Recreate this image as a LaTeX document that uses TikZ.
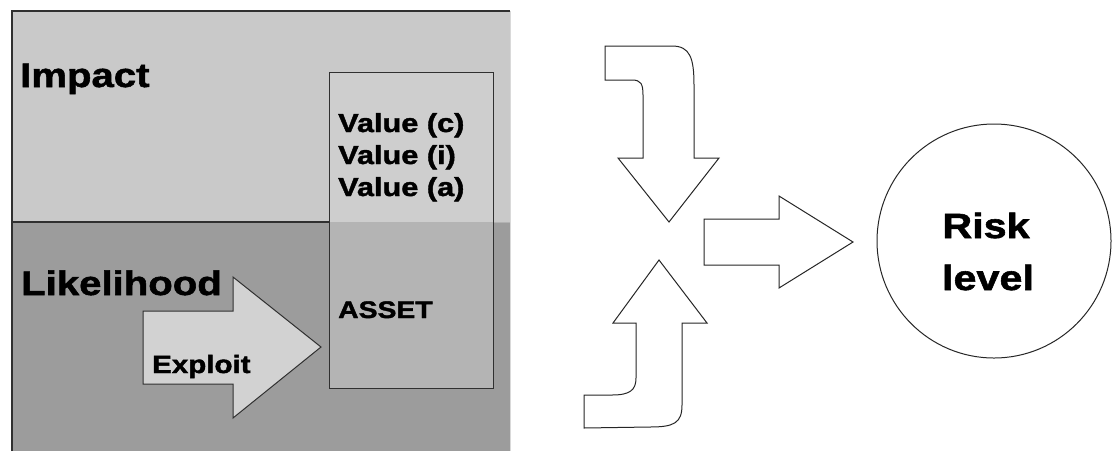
\documentclass[tikz,border=0pt]{standalone}
\usepackage{fontspec}
\setmainfont{Liberation Sans}[FakeStretch=1.18, BoldFeatures={FakeBold=1.6}]
\newcommand{\fsz}[1]{\fontsize{#1}{#1}\selectfont\bfseries}
\definecolor{impactbg}{HTML}{C9C9C9}
\definecolor{likebg}{HTML}{9C9C9C}
\definecolor{assetlow}{HTML}{B4B4B4}
\definecolor{exploitfill}{HTML}{D2D2D2}
\definecolor{edge}{HTML}{303030}
\tikzset{
  lbl/.style={anchor=base west, inner sep=0pt, text=black},
  panel/.style={draw=edge, line width=1.2pt},
  outline/.style={draw=black!85, line width=1pt, fill=white, line join=miter},
}
\begin{document}
\begin{tikzpicture}[x=1pt,y=-1pt]
\useasboundingbox (0,0) rectangle (1116,451);

% left panel: impact (upper) and likelihood (lower) zones
\fill[impactbg] (12,11) rectangle (510,222);
\fill[likebg] (12,222) rectangle (510,451);
\draw[panel] (12,451) -- (12,11) -- (510,11);
\draw[draw=white!85!black, line width=1pt] (510,11) -- (510,451);
\draw[panel] (12,222) -- (329,222);
\draw[draw=white!70!black, line width=0.8pt] (493,222) -- (510,222);

% asset box
\fill[impactbg!90!white] (329,72) rectangle (493,222);
\fill[assetlow] (329,222) rectangle (493,388);
\draw[draw=edge, line width=1pt] (329,72) rectangle (493,388);
\node[inner sep=0pt, minimum width=164pt, minimum height=316pt] (asset) at (411,230) {};

\node[lbl] (impact) at (20,87) {\fsz{34}Impact};
\node[lbl] (likelihood) at (21,295) {\fsz{34}Likelihood};
\node[lbl] (valc) at (338,132) {\fsz{26}Value (c)};
\node[lbl] (vali) at (338,164) {\fsz{26}Value (i)};
\node[lbl] (vala) at (338,196) {\fsz{26}Value (a)};
\node[lbl] (assettxt) at (338,318) {\fsz{24}ASSET};

% exploit arrow
\coordinate (extip) at (321,347);
\draw[fill=exploitfill, draw=edge, line width=1pt, line join=miter]
  (143,311) -- (233,311) -- (233,277) -- (extip) -- (233,418) -- (233,384) -- (143,384) -- cycle;
\node[lbl] (exploit) at (152,373) {\fsz{25}Exploit};

% bent arrow from above
\coordinate (toptip) at (669,222);
\draw[outline]
  (605,46) -- (672,46) .. controls (690,46) and (694,58) .. (694,85)
  -- (694,158) -- (719,158) -- (toptip) -- (618,158) -- (643,158)
  -- (643,95) .. controls (643,84) and (641,80) .. (632,80)
  -- (605,80) -- cycle;

% bent arrow from below
\coordinate (bottip) at (659,260);
\draw[outline]
  (bottip) -- (707,323) -- (682,323) -- (682,405)
  .. controls (682,423) and (674,427) .. (650,427)
  -- (584,428) -- (584,395) -- (612,395)
  .. controls (630,395) and (636,390) .. (636,378)
  -- (636,323) -- (613,323) -- cycle;

% arrow into the risk level
\coordinate (midtip) at (853,242);
\draw[outline]
  (704,219) -- (779,219) -- (779,196) -- (midtip) -- (779,288) -- (779,265) -- (704,265) -- cycle;

% risk level
\node[circle, draw=black!85, line width=1pt, minimum size=234pt, inner sep=0pt] (risk) at (994,241) {};
\node[anchor=base, inner sep=0pt] (risktxt) at (986,238) {\fsz{35}Risk};
\node[anchor=base, inner sep=0pt] (leveltxt) at (988,290) {\fsz{35}level};
\end{tikzpicture}
\end{document}
